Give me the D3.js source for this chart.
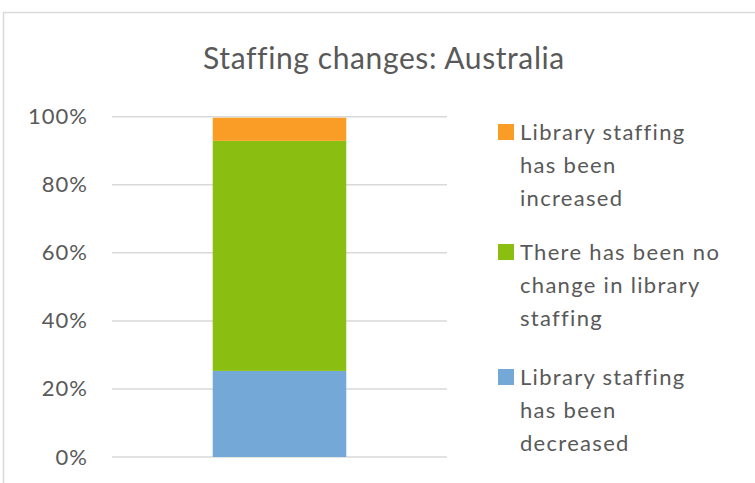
<!DOCTYPE html>
<html>
<head>
<meta charset="utf-8">
<script src="https://cdn.jsdelivr.net/npm/d3@7"></script>
<style>
  body { margin: 0; background: #fff; }
  text { font-family: Lato, "Open Sans", sans-serif; fill: #595959; }
</style>
</head>
<body>
<div id="chart"></div>
<script>
// data
var categories = ["Australia"];
var seriesNames = ["Library staffing has been decreased",
                   "There has been no change in library staffing",
                   "Library staffing has been increased"];
var seriesValues = [25.3, 67.6, 6.8];
var seriesColors = ["#73a8d7", "#8abf12", "#f99d26"];
var tickLabels = ["0%", "20%", "40%", "60%", "80%", "100%"];
// legend text as it wraps in the picture (top to bottom)
var legendLines = [
  ["Library staffing", "has been", "increased"],
  ["There has been no", "change in library", "staffing"],
  ["Library staffing", "has been", "decreased"]
];

var width = 755, height = 483;

var svg = d3.select("#chart")
  .append("svg")
  .attr("width", width)
  .attr("height", height);

// chart border
svg.append("rect")
  .attr("x", 3.5).attr("y", 12.5)
  .attr("width", 800).attr("height", 500)
  .attr("fill", "none")
  .attr("stroke", "#d9d9d9")
  .attr("stroke-width", 1.5);

svg.append("text")
  .attr("x", 384).attr("y", 69)
  .attr("text-anchor", "middle")
  .style("font-size", "30px")
  .style("letter-spacing", "0.6px")
  .text("Staffing changes: Australia");

// scales
var x = d3.scaleBand()
  .domain(categories)
  .range([112, 447])
  .padding(0.43);
var y = d3.scaleLinear()
  .domain([0, 100])
  .range([457, 116.7]);

// gridlines
svg.append("g")
  .selectAll("line")
  .data(y.ticks(5))
  .enter()
  .append("line")
  .attr("x1", 112).attr("x2", 447)
  .attr("y1", function (d) { return y(d); })
  .attr("y2", function (d) { return y(d); })
  .attr("stroke", "#d9d9d9")
  .attr("stroke-width", 1.5);

// y axis labels
var yAxis = d3.axisLeft(y)
  .tickValues(y.ticks(5))
  .tickSize(0)
  .tickPadding(0)
  .tickFormat(function (d, i) { return tickLabels[i]; });
var ga = svg.append("g")
  .attr("transform", "translate(88,0)")
  .call(yAxis);
ga.select(".domain").remove();
ga.selectAll("text")
  .style("font-family", "Lato, 'Open Sans', sans-serif")
  .style("font-size", "22px")
  .style("letter-spacing", "1px")
  .attr("fill", "#595959");

// stacked bar
var row = { cat: categories[0] };
seriesValues.forEach(function (v, i) { row["s" + i] = v; });
var stack = d3.stack().keys(seriesValues.map(function (v, i) { return "s" + i; }));
var layers = stack([row]);

svg.append("g")
  .selectAll("rect")
  .data(layers)
  .enter()
  .append("rect")
  .attr("fill", function (d, i) { return seriesColors[i]; })
  .attr("x", x(categories[0]))
  .attr("width", x.bandwidth())
  .attr("y", function (d) { return y(d[0][1]); })
  .attr("height", function (d) { return y(d[0][0]) - y(d[0][1]); });

// legend, reversed order like the picture
var legendTop = [132, 252, 377];
var lg = svg.append("g")
  .selectAll("g")
  .data([2, 1, 0])
  .enter()
  .append("g")
  .attr("transform", function (d, i) { return "translate(498," + legendTop[i] + ")"; });

lg.append("rect")
  .attr("x", 0).attr("y", -8)
  .attr("width", 16).attr("height", 16)
  .attr("fill", function (d) { return seriesColors[d]; });

lg.append("text")
  .style("font-size", "22px")
  .style("letter-spacing", "1.3px")
  .selectAll("tspan")
  .data(function (d, i) { return legendLines[i]; })
  .enter()
  .append("tspan")
  .attr("x", 22)
  .attr("y", function (d, j) { return 8 + j * 33; })
  .text(function (d) { return d; });
</script>
</body>
</html>
